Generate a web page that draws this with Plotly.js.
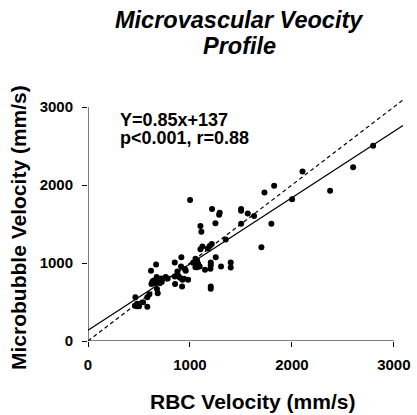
<!DOCTYPE html>
<html>
<head>
<meta charset="utf-8">
<script src="https://cdn.plot.ly/plotly-3.0.1.min.js"></script>
<style>html,body{margin:0;padding:0;background:#fff;}#chart{width:417px;height:415px;}</style>
</head>
<body>
<div id="chart"></div>
<script>
// RBC velocity (mm/s) per observation
const rbcVelocity = [465,460,481,501,481,540,582,582,602,618,622,632,645,658,668,674,677,684,677,704,720,723,762,782,851,851,854,877,883,900,916,913,923,926,942,952,959,982,1001,1031,1054,1070,1054,1080,1070,1096,1103,1103,1112,1122,1148,1175,1194,1204,1204,1201,1204,1204,1214,1217,1250,1253,1286,1292,1305,1351,1400,1400,1502,1502,1502,1567,1629,1701,1731,1799,1826,2002,2104,2375,2601,2797];
// Microbubble velocity (mm/s) per observation
const mbVelocity = [560,453,445,445,479,496,440,560,598,900,730,764,777,743,981,819,666,611,755,743,802,755,819,802,1006,828,730,892,840,815,1075,955,700,785,798,921,900,785,1807,1002,1053,1032,947,989,947,955,1177,1475,1402,1211,913,1185,1219,1006,972,926,700,670,1245,1692,1509,1075,1619,1645,955,1300,1006,943,1692,1670,1504,1636,1602,1202,1904,1504,1989,1819,2172,1926,2228,2504];
// Regression and identity line extents
const lineX = [0, 3090];
const slope = 0.85, intercept = 137;
const identityX = [0, 3085];
const tickValues = [0, 1000, 2000, 3000];
const tickLabels = ['0', '1000', '2000', '3000'];
const chartTitle1 = 'Microvascular Veocity';
const chartTitle2 = 'Profile';
const xTitle = 'RBC Velocity (mm/s)';
const yTitle = 'Microbubble Velocity (mm/s)';
const statLine1 = 'Y=0.85x+137';
const statLine2 = 'p<0.001, r=0.88';

const FONT = 'Liberation Sans, Arial, Helvetica, sans-serif';

const traces = [
  {x: identityX, y: identityX, mode: 'lines', line: {color: '#000', width: 1.2, dash: '4px,3px'}, hoverinfo: 'skip'},
  {x: lineX, y: lineX.map(v => slope * v + intercept), mode: 'lines', line: {color: '#000', width: 1.2}, hoverinfo: 'skip'},
  {x: rbcVelocity, y: mbVelocity, mode: 'markers', marker: {color: '#000', size: 6}}
];

const axisCommon = {
  showgrid: false, zeroline: false, showline: false,
  ticks: 'outside', ticklen: 5, tickwidth: 1, tickcolor: '#000',
  tickvals: tickValues, ticktext: tickLabels,
  tickfont: {family: FONT, size: 15, color: '#000', weight: 'bold'}
};

const layout = {
  width: 417, height: 415,
  margin: {l: 88, r: 14, t: 100, b: 74},
  paper_bgcolor: '#fff', plot_bgcolor: '#fff',
  showlegend: false,
  xaxis: Object.assign({}, axisCommon, {range: [0, 3090], ticklabelstandoff: 5}),
  yaxis: Object.assign({}, axisCommon, {range: [0, 3090], ticklabelstandoff: 6}),
  shapes: [
    {type: 'line', xref: 'x', yref: 'y', x0: 0, x1: 3000, y0: 0, y1: 0, line: {color: '#000', width: 1}},
    {type: 'line', xref: 'x', yref: 'y', x0: 0, x1: 0, y0: 0, y1: 3000, line: {color: '#000', width: 1}}
  ],
  annotations: [
    {text: chartTitle1, xref: 'paper', yref: 'paper', x: 0.4825, y: 1.331, xanchor: 'center', yanchor: 'middle', showarrow: false,
     font: {family: FONT, size: 23.5, color: '#000', weight: 'bold', style: 'italic'}},
    {text: chartTitle2, xref: 'paper', yref: 'paper', x: 0.4825, y: 1.226, xanchor: 'center', yanchor: 'middle', showarrow: false,
     font: {family: FONT, size: 23.5, color: '#000', weight: 'bold', style: 'italic'}},
    {text: xTitle, xref: 'paper', yref: 'paper', x: 0.523, y: -0.252, xanchor: 'center', yanchor: 'middle', showarrow: false,
     font: {family: FONT, size: 21, color: '#000', weight: 'bold'}},
    {text: yTitle, xref: 'paper', yref: 'paper', x: -0.219, y: 0.469, xanchor: 'center', yanchor: 'middle', textangle: -90, showarrow: false,
     font: {family: FONT, size: 21, color: '#000', weight: 'bold'}},
    {text: statLine1, xref: 'paper', yref: 'paper', x: 0.094, y: 0.915, xanchor: 'left', yanchor: 'middle', showarrow: false,
     font: {family: FONT, size: 18, color: '#000', weight: 'bold'}},
    {text: statLine2, xref: 'paper', yref: 'paper', x: 0.094, y: 0.841, xanchor: 'left', yanchor: 'middle', showarrow: false,
     font: {family: FONT, size: 18, color: '#000', weight: 'bold'}}
  ]
};

Plotly.newPlot('chart', traces, layout, {displayModeBar: false, staticPlot: true});
</script>
</body>
</html>
